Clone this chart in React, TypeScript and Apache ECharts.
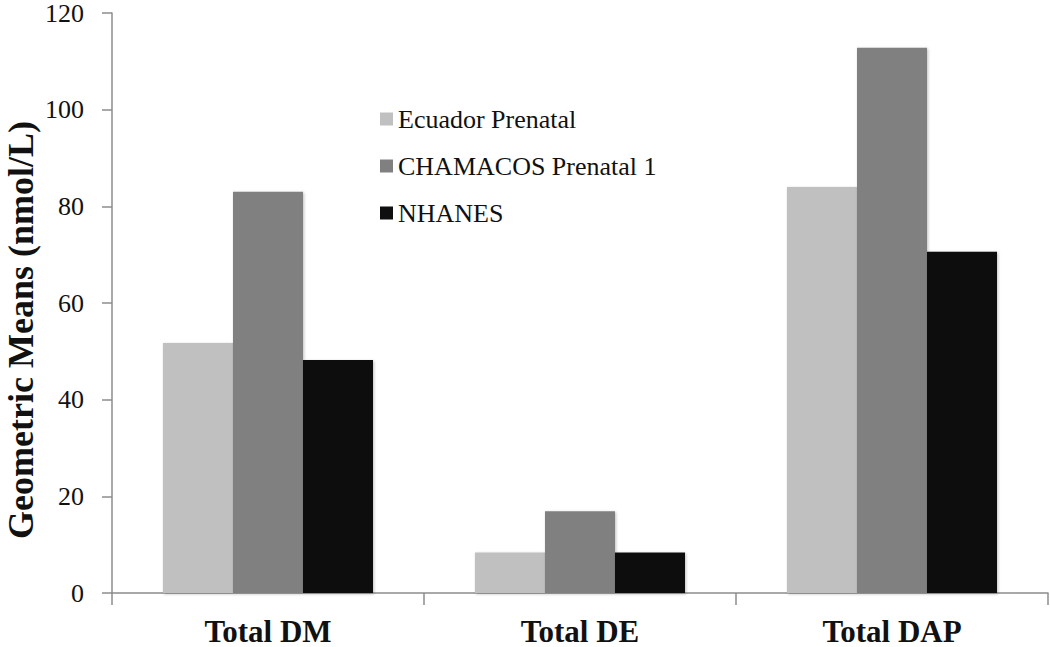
import React, { useEffect, useRef } from "react";
import * as echarts from "echarts";

const categories = ["Total DM", "Total DE", "Total DAP"];
const seriesNames = ["Ecuador Prenatal", "CHAMACOS Prenatal 1", "NHANES"];
const ecuadorPrenatal = [51.7, 8.4, 84.0];
const chamacosPrenatal1 = [83.0, 16.9, 112.8];
const nhanes = [48.2, 8.4, 70.6];
const seriesColors = ["#c0c0c0", "#808080", "#0f0f0f"];
const yAxisTitle = "Geometric Means (nmol/L)";

const FONT = '"Liberation Serif", "Times New Roman", serif';

export default function App() {
  const ref = useRef<HTMLDivElement>(null);
  useEffect(() => {
    if (!ref.current) return;
    const chart = echarts.init(ref.current, undefined, { renderer: "svg" });
    const values = [ecuadorPrenatal, chamacosPrenatal1, nhanes];
    chart.setOption({
      animation: false,
      backgroundColor: "#ffffff",
      grid: { left: 112, right: 2, top: 11, bottom: 54, containLabel: false },
      legend: {
        orient: "vertical",
        left: 380,
        top: 106,
        padding: 0,
        icon: "rect",
        itemWidth: 13,
        itemHeight: 13,
        itemGap: 21,
        data: seriesNames,
        textStyle: { fontFamily: FONT, fontSize: 26, color: "#111", lineHeight: 26 },
      },
      xAxis: {
        type: "category",
        data: categories,
        axisLine: { lineStyle: { color: "#8c8c8c", width: 1.5 } },
        axisTick: { show: true, length: 12, lineStyle: { color: "#8c8c8c", width: 1.5 } },
        axisLabel: {
          fontFamily: FONT,
          fontSize: 31,
          lineHeight: 28,
          fontWeight: "bold",
          color: "#111",
          margin: 24,
        },
      },
      yAxis: {
        type: "value",
        min: 0,
        max: 120,
        interval: 20,
        splitLine: { show: false },
        axisLine: { show: true, lineStyle: { color: "#8c8c8c", width: 1.5 } },
        axisTick: { show: true, length: 10, lineStyle: { color: "#8c8c8c", width: 1.5 } },
        axisLabel: { fontFamily: FONT, fontSize: 26, color: "#111", margin: 28 },
      },
      graphic: [
        {
          type: "text",
          x: 21,
          y: 330,
          rotation: Math.PI / 2,
          style: {
            text: yAxisTitle,
            fontFamily: FONT,
            fontSize: 36,
            fontWeight: "bold",
            fill: "#111",
            align: "center",
            verticalAlign: "middle",
          },
        },
      ],
      series: seriesNames.map((name, i) => ({
        name,
        type: "bar",
        data: values[i],
        barWidth: 70,
        barGap: "0%",
        itemStyle: {
          color: seriesColors[i],
          shadowBlur: 3,
          shadowColor: "rgba(0,0,0,0.25)",
          shadowOffsetX: 1,
          shadowOffsetY: 1,
        },
      })),
    });
    return () => chart.dispose();
  }, []);
  return (
    <div
      ref={ref}
      style={{ position: "fixed", left: 0, top: 0, width: 1050, height: 647 }}
    />
  );
}
